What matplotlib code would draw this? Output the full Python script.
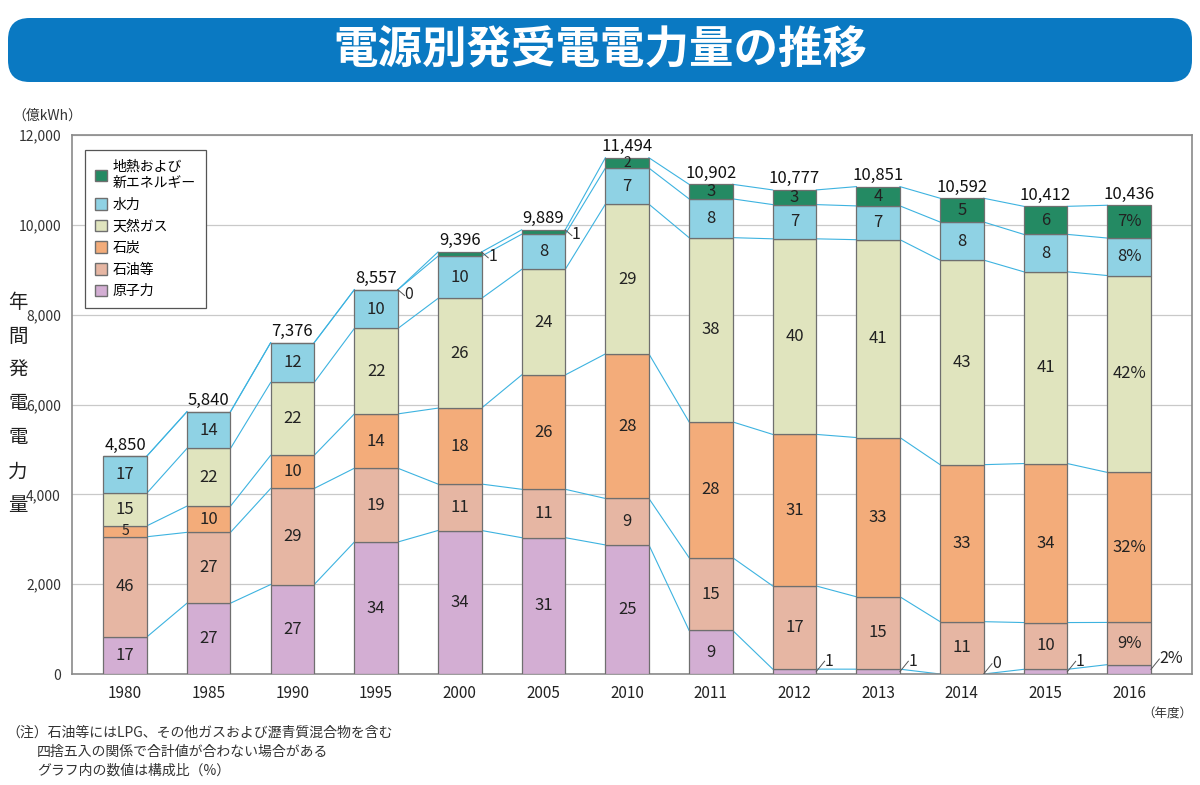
import numpy as np
import matplotlib.pyplot as plt
from matplotlib.patches import FancyBboxPatch, Patch
from matplotlib.ticker import FuncFormatter

plt.rcParams['font.family'] = ['Noto Sans CJK JP', 'DejaVu Sans']

years = ["1980", "1985", "1990", "1995", "2000", "2005", "2010",
         "2011", "2012", "2013", "2014", "2015", "2016"]
totals = [4850, 5840, 7376, 8557, 9396, 9889, 11494,
          10902, 10777, 10851, 10592, 10412, 10436]

# composition (%) bottom -> top
nuclear = [17, 27, 27, 34, 34, 31, 25, 9, 1, 1, 0, 1, 2]
oil = [46, 27, 29, 19, 11, 11, 9, 15, 17, 15, 11, 10, 9]
coal = [5, 10, 10, 14, 18, 26, 28, 28, 31, 33, 33, 34, 32]
gas = [15, 22, 22, 22, 26, 24, 29, 38, 40, 41, 43, 41, 42]
hydro = [17, 14, 12, 10, 10, 8, 7, 8, 7, 7, 8, 8, 8]
geo = [np.nan, np.nan, np.nan, 0, 1, 1, 2, 3, 3, 4, 5, 6, 7]

series = [nuclear, oil, coal, gas, hydro, geo]
names = ["原子力", "石油等", "石炭", "天然ガス", "水力", "地熱および\n新エネルギー"]
colors = ["#d3aed3", "#e6b6a3", "#f3ac7a", "#e0e4be", "#8fd2e4", "#248a63"]
line_color = "#3db3e0"

pct = np.nan_to_num(np.array(series, dtype=float))
tot = np.array(totals, dtype=float)
heights = pct / pct.sum(axis=0) * tot
cum = np.cumsum(heights, axis=0)
bottoms = cum - heights

fig = plt.figure(figsize=(12, 7.85), dpi=100)

# header banner
banner = FancyBboxPatch((8 / 1200, 1 - 82 / 785), 1184 / 1200, 64 / 785,
                        boxstyle="round,pad=0,rounding_size=0.018",
                        transform=fig.transFigure, facecolor="#0a79c2",
                        edgecolor="none", mutation_aspect=1200 / 785)
fig.patches.append(banner)
fig.text(0.5, 1 - 50 / 785, "電源別発受電電力量の推移", color="white",
         fontsize=32, fontweight="bold", ha="center", va="center")

ax = fig.add_axes([72 / 1200, 1 - 674 / 785, 1120 / 1200, 539 / 785])
x = np.arange(len(years))
w = 0.52

for k in range(len(series)):
    ax.bar(x, heights[k], w, bottom=bottoms[k], color=colors[k],
           edgecolor="#6f6f6f", linewidth=0.9, zorder=3)

# connecting lines between bars
for k in range(len(series)):
    for i in range(len(years) - 1):
        ax.plot([x[i] + w / 2, x[i + 1] - w / 2], [cum[k][i], cum[k][i + 1]],
                color=line_color, lw=0.8, zorder=2)

# segment labels
last = len(years) - 1
for k, s in enumerate(series):
    for i, v in enumerate(s):
        if np.isnan(v):
            continue
        txt = f"{int(v)}%" if i == last else f"{int(v)}"
        mid = bottoms[k][i] + heights[k][i] / 2
        if k == 0 and v <= 2:
            x0, y0 = x[i] + w / 2, mid
            ax.plot([x0, x0 + 0.1], [y0, y0 + 230], color="#555555", lw=0.7, zorder=4)
            ax.text(x0 + 0.1, y0 + 230, txt, fontsize=11.5, ha="left", va="center",
                    color="#222222", zorder=5)
        elif k == len(series) - 1 and v <= 1:
            x0, y0 = x[i] + w / 2, cum[k][i]
            ax.plot([x0, x0 + 0.08], [y0, y0 - 130], color="#555555", lw=0.7, zorder=4)
            ax.text(x0 + 0.08, y0 - 110, txt, fontsize=11.5, ha="left", va="center",
                    color="#222222", zorder=5)
        else:
            fs = 10 if heights[k][i] < 260 else 12
            ax.text(x[i], mid, txt, fontsize=fs, ha="center", va="center",
                    color="#222222", zorder=5)

for i, t in enumerate(totals):
    ax.text(x[i], cum[-1][i] + 60, f"{t:,}", fontsize=12, ha="center",
            va="bottom", color="#111111", zorder=5)

ax.set_xlim(-0.634, 12.75)
ax.set_ylim(0, 12000)
ax.set_yticks(np.arange(0, 12001, 2000))
ax.yaxis.set_major_formatter(FuncFormatter(lambda v, p: f"{int(v):,}"))
ax.set_xticks(x)
ax.set_xticklabels(years)
ax.tick_params(axis="y", length=0, pad=8, labelsize=10, labelcolor="#333333")
ax.tick_params(axis="x", length=0, pad=8, labelsize=11, labelcolor="#222222")
ax.grid(axis="y", color="#c9c9c9", lw=0.9, zorder=0)
ax.set_axisbelow(True)
for sp in ax.spines.values():
    sp.set_color("#8a8a8a")
    sp.set_linewidth(1.2)

handles = [Patch(facecolor=colors[k], edgecolor="#6f6f6f", label=names[k])
           for k in range(len(series) - 1, -1, -1)]
leg = ax.legend(handles=handles, loc="upper left", bbox_to_anchor=(13 / 1120, 0.972),
                borderaxespad=0, fontsize=10, fancybox=False, edgecolor="#555555",
                framealpha=1, handlelength=0.9, handleheight=0.9, handletextpad=0.4,
                labelspacing=0.55, borderpad=0.7)
leg.get_frame().set_linewidth(0.9)
leg.set_zorder(6)

# vertical axis title
for j, ch in enumerate("年間発電電力量"):
    fig.text(18 / 1200, 1 - (302 + j * 34) / 785, ch, fontsize=14,
             ha="center", va="center", color="#222222")
fig.text(12 / 1200, 1 - 116 / 785, "（億kWh）", fontsize=10, ha="left",
         va="center", color="#333333")
fig.text(1192 / 1200, 1 - 714 / 785, "（年度）", fontsize=9, ha="right",
         va="center", color="#333333")

notes_y = [733, 752, 771]
fig.text(6 / 1200, 1 - notes_y[0] / 785, "（注）石油等にはLPG、その他ガスおよび瀝青質混合物を含む",
         fontsize=10, ha="left", va="center", color="#333333")
fig.text(37 / 1200, 1 - notes_y[1] / 785, "四捨五入の関係で合計値が合わない場合がある",
         fontsize=10, ha="left", va="center", color="#333333")
fig.text(37 / 1200, 1 - notes_y[2] / 785, "グラフ内の数値は構成比（%）",
         fontsize=10, ha="left", va="center", color="#333333")

fig.savefig("out.png", dpi=100, facecolor="white")
